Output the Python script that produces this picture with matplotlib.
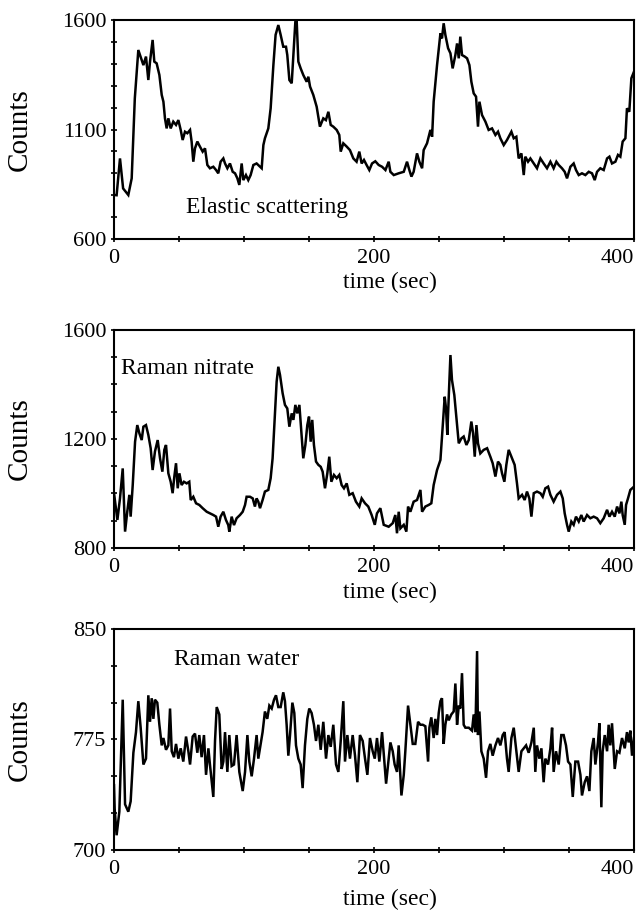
import matplotlib
matplotlib.use("Agg")
import matplotlib.pyplot as plt
from matplotlib.ticker import MultipleLocator

plt.rcParams["font.family"] = ["Liberation Serif", "DejaVu Serif"]

# elastic scattering trace
elastic_time = [0, 2, 4.6, 7, 11, 13.6, 16, 18.7, 21.3, 22.6, 24.6, 26.4, 27.7, 29.7, 31, 32.8,
                34.9, 36.7, 38, 39.2, 40.5, 41.8, 43.6, 45.6, 47.7, 49.5, 51.3, 52.8, 54.6, 56.4,
                58.5, 59.7, 61, 62.3, 64.1, 66.1, 68.2, 70, 71.8, 73.8, 76.4, 78.5, 80.2, 82, 84.1,
                85.4, 87.2, 89.2, 91.3, 93.1, 94.9, 96.4, 98.2, 99.5, 101.5, 103.3, 105.1, 107.2,
                109.7, 112.3, 113.6, 114.9, 116.1, 118.7, 120.5, 122.6, 124.3, 126.4, 128.2, 130.2,
                132.3, 133.3, 134.9, 136.7, 138, 139.5, 140.5, 141.8, 143.6, 145.6, 148.2, 149.5,
                150.8, 153.3, 155.9, 158.4, 161, 163, 164.9, 166.7, 168.7, 171.3, 173.3, 174.4,
                176.4, 179, 181.5, 184.1, 186.6, 188.7, 190.5, 192.3, 194.3, 196.4, 198.5, 201,
                203.6, 206.2, 208.8, 211.3, 212.6, 215.2, 219, 222.9, 225.4, 227.2, 228.8, 230.5,
                233.1, 234.9, 237, 238.2, 240.8, 243.4, 244.7, 245.9, 248.5, 251.1, 252.3, 253.6,
                254.9, 257, 258.8, 260.5, 262.6, 263.9, 265.2, 266.4, 267.7, 269.8, 271.6, 273.4,
                274.9, 276.7, 278.5, 280, 281.1, 283.1, 285.7, 288.2, 290.8, 293.4, 295.4, 297.2,
                299.8, 302.3, 305.7, 307.5, 309.5, 311.3, 313.4, 315.2, 316.4, 318.5, 320.3, 322.9,
                325.4, 328, 330.5, 333.1, 335.7, 338.2, 340.3, 342.1, 344.6, 346.7, 348.5, 351.1,
                353.6, 355.4, 357.5, 360, 362.6, 365.2, 367.7, 369.8, 371.6, 374.1, 376.7, 379.3,
                381.1, 383.1, 385.7, 387.7, 389.5, 391.3, 393.4, 394.6, 396.4, 398, 400]
elastic_counts = [801, 800, 968, 831, 801, 877, 1242, 1463, 1417, 1394, 1433, 1326, 1410, 1509, 1410,
                  1402, 1349, 1258, 1227, 1151, 1105, 1151, 1105, 1136, 1121, 1143, 1098, 1052, 1090,
                  1083, 1098, 1045, 953, 1014, 1045, 1022, 999, 1014, 938, 923, 930, 915, 900, 953,
                  968, 945, 923, 945, 907, 900, 877, 847, 945, 869, 892, 869, 892, 938, 945, 930, 923,
                  1029, 1060, 1105, 1197, 1394, 1532, 1577, 1532, 1478, 1478, 1440, 1326, 1311, 1440,
                  1592, 1600, 1410, 1379, 1349, 1318, 1341, 1296, 1258, 1204, 1113, 1151, 1143, 1181,
                  1121, 1113, 1098, 1075, 999, 1037, 1022, 1006, 968, 953, 999, 945, 961, 938, 915,
                  945, 955, 938, 930, 915, 953, 907, 892, 900, 907, 953, 915, 885, 907, 991, 953, 923,
                  1006, 1037, 1098, 1067, 1227, 1394, 1539, 1516, 1585, 1532, 1471, 1448, 1379, 1440,
                  1493, 1425, 1524, 1440, 1433, 1425, 1394, 1318, 1265, 1250, 1113, 1227, 1166, 1136,
                  1098, 1105, 1075, 1090, 1060, 1029, 1052, 1090, 1060, 1067, 968, 991, 892, 976, 953,
                  968, 945, 923, 968, 945, 923, 953, 923, 953, 938, 923, 907, 877, 930, 945, 915, 892,
                  900, 892, 907, 900, 869, 907, 923, 915, 968, 976, 945, 953, 984, 976, 1045, 1060,
                  1197, 1181, 1334, 1364]

# Raman nitrate trace
nitrate_time = [0, 0.8, 2.6, 4.6, 6.7, 8.5, 10.2, 11.8, 12.8, 14.4, 16.2, 17.9, 19.5, 21.3, 22.6,
                24.6, 26.4, 28.2, 29.7, 31.5, 33.6, 35.4, 37.2, 38.7, 40, 41.8, 43.6, 45.1, 46.4,
                47.7, 49, 50.3, 52, 53.8, 55.9, 57.9, 59, 61, 63.1, 65.6, 68.2, 71.3, 73.8, 76.4,
                78.5, 80.2, 82, 84.1, 86.1, 87.9, 88.7, 90.5, 92.3, 94.3, 96.9, 99, 100.8, 102,
                104.6, 106.7, 108.4, 109.7, 111, 112.3, 114.3, 116.1, 118.7, 120.5, 122, 123.8,
                125.1, 126.4, 127.7, 129.7, 131.5, 133.3, 134.9, 136.7, 138, 139.5, 141, 142.6,
                144.3, 145.6, 147.2, 148.7, 150, 151.3, 152.5, 153.8, 155.4, 157.2, 159, 160.5,
                162.3, 164.1, 165.6, 167.2, 169.2, 171.3, 173.3, 175.1, 176.9, 179, 181, 183.6,
                186.1, 188.7, 190.5, 193.1, 195.6, 198.2, 200.6, 202.3, 204.9, 207.5, 211.3, 214.4,
                216.4, 217.7, 219, 220.3, 222.9, 224.9, 226.2, 228, 230.5, 233.1, 235.7, 237, 239.5,
                242.1, 244.1, 245.9, 248.5, 251.1, 252.9, 254.4, 255.4, 256.4, 257.5, 258.8, 260,
                261.8, 263.9, 265.2, 267.2, 269, 271.1, 272.9, 274.9, 276.2, 277.5, 278.8, 280,
                281.8, 284.4, 287, 289.5, 291.3, 293.4, 295.4, 297.2, 298.5, 300.3, 301.8, 303.6,
                306.2, 308.2, 310, 311.3, 313.9, 315.9, 317.7, 319.5, 321.1, 322.9, 325.4, 328,
                329.8, 331.8, 333.9, 335.7, 338.2, 340.8, 343.4, 345.2, 346.7, 348.5, 349.8, 351.8,
                353.6, 355.4, 357.5, 359.5, 361.3, 363.9, 366.4, 369, 371.6, 374.1, 376.7, 379.3,
                381.1, 383.1, 385.2, 387, 388.8, 390.3, 391.3, 392.9, 393.9, 395.4, 397.2, 400]
nitrate_counts = [1001, 970, 903, 982, 1092, 860, 933, 995, 915, 1031, 1190, 1251, 1221, 1196, 1245,
                  1251, 1215, 1166, 1086, 1154, 1196, 1129, 1080, 1160, 1178, 1074, 1043, 1001, 1062,
                  1111, 1019, 1074, 1031, 1043, 1037, 1043, 976, 988, 964, 958, 946, 933, 927, 921,
                  915, 878, 915, 933, 903, 884, 860, 915, 884, 909, 921, 933, 958, 988, 988, 982, 952,
                  982, 970, 946, 976, 1007, 1013, 1056, 1129, 1288, 1410, 1465, 1435, 1368, 1325,
                  1312, 1245, 1294, 1270, 1325, 1294, 1325, 1215, 1129, 1178, 1251, 1282, 1190, 1270,
                  1178, 1117, 1105, 1098, 1080, 1019, 1074, 1135, 1043, 1068, 1056, 1068, 1031, 1019,
                  1037, 995, 1001, 970, 952, 982, 964, 952, 921, 885, 927, 946, 885, 878, 891, 921,
                  854, 933, 872, 885, 860, 952, 933, 970, 976, 1013, 933, 952, 958, 964, 1031, 1086,
                  1123, 1251, 1355, 1312, 1215, 1355, 1508, 1416, 1361, 1251, 1184, 1202, 1209, 1178,
                  1196, 1264, 1221, 1135, 1251, 1184, 1147, 1160, 1166, 1135, 1111, 1062, 1117, 1105,
                  1074, 1043, 1105, 1160, 1129, 1105, 1037, 982, 995, 976, 1007, 982, 915, 1001, 1007,
                  1001, 988, 1019, 1025, 995, 970, 995, 1007, 982, 927, 885, 860, 897, 885, 915, 897,
                  921, 897, 921, 909, 915, 909, 891, 909, 940, 915, 933, 915, 952, 927, 970, 921, 885,
                  958, 982, 1013, 1025]

# Raman water trace
water_time = [0, 0.5, 2, 4.1, 6.7, 8.5, 11, 12.8, 14.9, 16.9, 18.7, 20.5, 22.6, 24.6, 26.4, 27.7,
              29, 30.3, 31.5, 33.3, 34.9, 36.7, 38, 40, 41.8, 43.1, 44.4, 46.1, 47.7, 49.5, 51.3,
              53.3, 55.4, 57.2, 58.5, 60.5, 62.3, 64.1, 65.6, 67.4, 69.2, 70.8, 72.6, 73.8, 76.4,
              77.7, 79, 81, 82.8, 84.1, 85.4, 87.2, 88.7, 90.5, 92.3, 94.3, 96.4, 99, 100.8, 102.6,
              104.1, 105.9, 107.7, 109.7, 111, 112.3, 114.3, 116.1, 117.9, 119.5, 121.3, 123.1,
              124.6, 126.4, 128.2, 130.2, 131.5, 132.8, 134.1, 135.4, 137.2, 138.7, 140, 141.8,
              143.6, 145.1, 146.9, 148.7, 150.2, 152, 153.8, 155.4, 157.2, 159, 161, 163.1, 164.9,
              166.7, 168.7, 170.8, 172.6, 174.4, 176.4, 177.7, 179.5, 181.5, 183.6, 185.4, 187.2,
              189.2, 191.3, 193.1, 194.9, 196.9, 199, 200.6, 202.3, 204.1, 206.2, 208.2, 209.3,
              211.3, 212.6, 214.4, 215.9, 217.7, 219, 221.1, 222.9, 224.1, 226.2, 228, 229.8,
              231.8, 233.9, 235.7, 237.5, 239.5, 241.6, 242.6, 244.1, 245.9, 247.2, 248.5, 249.8,
              251.1, 252.3, 253.6, 254.9, 256.2, 257.5, 259.5, 261.3, 262.6, 263.9, 265.2, 266.4,
              267.7, 269, 270.3, 272.9, 275.4, 276.7, 278, 279.3, 280, 281.1, 282.6, 284.4, 286.2,
              287.7, 289.5, 291.3, 293.4, 295.4, 297.2, 299, 300.5, 302.3, 303.6, 305.7, 307.5,
              309.3, 311.3, 313.4, 315.2, 317, 319, 321.1, 322.9, 324.1, 325.4, 327.2, 328.8,
              330.5, 331.8, 333.9, 335.7, 337, 338.2, 340, 342.1, 344.1, 345.9, 347.7, 349.3,
              351.1, 352.9, 354.9, 357, 358.8, 360, 362.1, 363.9, 365.7, 367.2, 369, 370.3, 372.3,
              373.4, 374.9, 375.9, 377.5, 379.3, 380.5, 381.8, 383.1, 385.2, 387, 388.8, 390.8,
              392.9, 394.6, 395.9, 397.2, 398.5, 400]
water_counts = [744, 728, 710, 726, 802, 731, 726, 733, 766, 780, 801, 783, 758, 762, 805, 787, 803,
                789, 802, 800, 785, 771, 776, 768, 771, 796, 767, 763, 772, 762, 769, 760, 777, 767,
                758, 777, 779, 766, 778, 763, 778, 751, 769, 758, 736, 774, 797, 792, 755, 760, 780,
                753, 778, 757, 758, 778, 753, 740, 753, 778, 760, 750, 762, 778, 762, 769, 780, 794,
                789, 798, 796, 802, 805, 797, 797, 807, 801, 785, 764, 778, 800, 793, 771, 762, 758,
                742, 771, 789, 796, 793, 785, 774, 785, 768, 787, 762, 778, 770, 785, 758, 753, 774,
                801, 760, 778, 762, 778, 764, 746, 778, 774, 762, 751, 776, 767, 762, 776, 760, 780,
                758, 745, 762, 773, 767, 758, 753, 771, 737, 751, 767, 798, 785, 772, 772, 787, 785,
                785, 784, 760, 783, 790, 776, 789, 778, 793, 801, 803, 772, 785, 792, 788, 792, 794,
                813, 785, 798, 796, 820, 785, 783, 783, 781, 792, 780, 835, 778, 794, 767, 762, 749,
                767, 772, 764, 771, 776, 771, 778, 780, 762, 753, 776, 783, 769, 753, 767, 769, 771,
                766, 773, 783, 753, 771, 762, 769, 746, 762, 758, 769, 783, 753, 767, 758, 778, 778,
                771, 760, 758, 736, 760, 760, 751, 737, 746, 750, 740, 767, 776, 758, 773, 786, 729,
                767, 778, 767, 785, 771, 786, 755, 767, 766, 776, 769, 780, 773, 781, 764, 776]

fig = plt.figure(figsize=(6.38, 9.13), dpi=100)

panels = [
    ([0.1787, 0.7382, 0.815, 0.2399], elastic_time, elastic_counts,
     (600, 1600), [600, 1100, 1600], 100, "Elastic scattering", (55, 742), -0.15),
    ([0.1787, 0.3998, 0.815, 0.2388], nitrate_time, nitrate_counts,
     (800, 1600), [800, 1200, 1600], 100, "Raman nitrate", (5, 1457), -0.155),
    ([0.1787, 0.0690, 0.815, 0.2421], water_time, water_counts,
     (700, 850), [700, 775, 850], 25, "Raman water", (46, 829), -0.175),
]

for rect, t, c, ylim, yticks, yminor, name, pos, xlab_y in panels:
    ax = fig.add_axes(rect)
    ax.plot(t, c, color="black", lw=1.8, solid_joinstyle="miter")
    ax.set_xlim(0, 400)
    ax.set_ylim(*ylim)
    ax.set_xticks([0, 200, 400])
    ax.xaxis.set_minor_locator(MultipleLocator(50))
    ax.set_yticks(yticks)
    ax.yaxis.set_minor_locator(MultipleLocator(yminor))
    ax.tick_params(which="both", direction="inout", length=5, width=1.2,
                   top=False, right=False, labelsize=16)
    ax.tick_params(axis="x", pad=5)
    ax.tick_params(axis="y", pad=3)
    # keep the last time label inside the frame edge
    ax.get_xticklabels()[-1].set_horizontalalignment("right")
    for s in ax.spines.values():
        s.set_linewidth(1.5)
    ax.set_ylabel("Counts", fontsize=21)
    ax.yaxis.set_label_coords(-0.156, 0.5)
    ax.set_xlabel("time (sec)", fontsize=17)
    ax.xaxis.set_label_coords(0.531, xlab_y)
    ax.text(pos[0], pos[1], name, fontsize=17, ha="left", va="center")

fig.savefig("out.png", dpi=100)
